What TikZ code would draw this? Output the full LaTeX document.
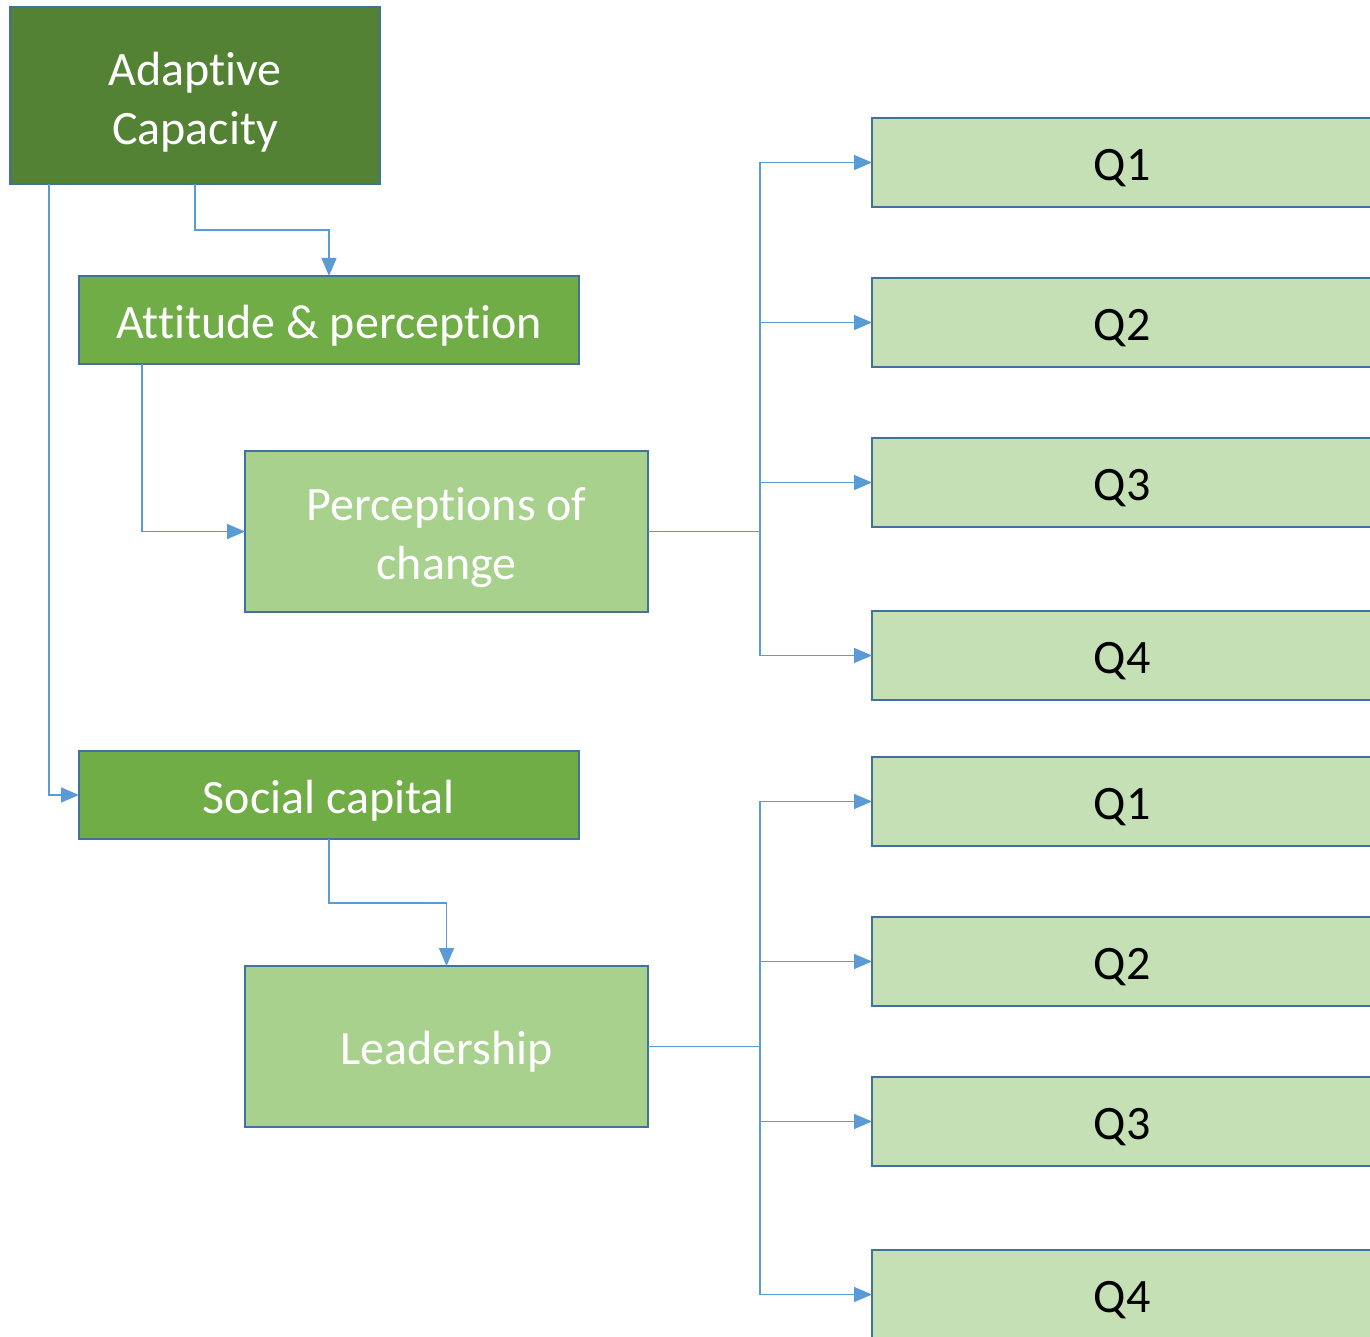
\documentclass[tikz,border=0pt]{standalone}
\usepackage{fontspec}
\setmainfont[Ligatures=NoCommon]{Carlito}
\usetikzlibrary{arrows.meta}
\definecolor{dkgreen}{HTML}{548235}
\definecolor{midgreen}{HTML}{70AD47}
\definecolor{ltgreen}{HTML}{A9D18E}
\definecolor{qgreen}{HTML}{C5E0B4}
\definecolor{bordblue}{HTML}{41719C}
\definecolor{linkblue}{HTML}{5B9BD5}
\newcommand\boxtwo[2]{\rule{0pt}{46pt}#1\\#2}
\tikzset{
  box/.style={draw=bordblue, line width=2.2pt, inner sep=0pt, outer sep=0pt, text=white, align=center,
    font=\fontsize{48}{59}\selectfont},
  oneline/.style={text height=44pt, text depth=8pt},
  qbox/.style={box, oneline, fill=qgreen, text=black, minimum width=500pt, minimum height=89pt},
  link/.style={draw=linkblue, line width=1.4pt, -{Triangle[length=18pt,width=15pt]}},
  plain/.style={draw=linkblue, line width=1.4pt},
}
\begin{document}
\begin{tikzpicture}[x=1pt,y=-1pt]
\useasboundingbox (0,0) rectangle (1370,1337);
\begin{scope}
\clip (0,0) rectangle (1370,1337);
% main boxes
\node[box, fill=dkgreen, minimum width=370pt, minimum height=177pt] (ac) at (195,95.5) {\boxtwo{Adaptive}{Capacity}};
\node[box, oneline, fill=midgreen, minimum width=500pt, minimum height=88pt] (ap) at (329,320) {Attitude \& perception};
\node[box, fill=ltgreen, minimum width=403pt, minimum height=161pt] (pc) at (446.5,531.5) {\boxtwo{Perceptions of}{change}};
\node[box, oneline, fill=midgreen, minimum width=500pt, minimum height=88pt] (sc) at (329,795) {Social capital};
\node[box, oneline, fill=ltgreen, minimum width=403pt, minimum height=161pt] (ld) at (446.5,1046.5) {Leadership};
% Q boxes upper
\node[qbox] (qa1) at (1122,162.5) {Q1};
\node[qbox] (qa2) at (1122,322.5) {Q2};
\node[qbox] (qa3) at (1122,482.5) {Q3};
\node[qbox] (qa4) at (1122,655.5) {Q4};
% Q boxes lower
\node[qbox] (qb1) at (1122,801.5) {Q1};
\node[qbox] (qb2) at (1122,961.5) {Q2};
\node[qbox] (qb3) at (1122,1121.5) {Q3};
\node[qbox] (qb4) at (1122,1294.5) {Q4};
\end{scope}
% connectors
\draw[link] (ac.south -| 195,0) |- (262,230) -| (ap.north);
\draw[link] (ac.south -| 49,0) |- (sc.west);
\draw[link] (ap.south -| 142,0) |- (pc.west);
\draw[link] (sc.south) |- (387,903) -| (ld.north);
\coordinate (ja) at (760,531.5);
\coordinate (jb) at (760,1046.5);
\draw[plain] (pc.east) -- (ja);
\draw[plain] (ld.east) -- (jb);
\draw[link] (ja) |- (qa1.west);
\draw[link] (ja) |- (qa2.west);
\draw[link] (ja) |- (qa3.west);
\draw[link] (ja) |- (qa4.west);
\draw[link] (jb) |- (qb1.west);
\draw[link] (jb) |- (qb2.west);
\draw[link] (jb) |- (qb3.west);
\draw[link] (jb) |- (qb4.west);
\end{tikzpicture}
\end{document}
